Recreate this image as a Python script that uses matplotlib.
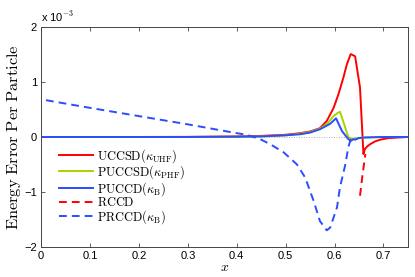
import matplotlib.pyplot as plt
import numpy as np

plt.rcParams['mathtext.fontset'] = 'cm'
plt.rcParams['font.family'] = 'Liberation Sans'

# energy error per particle, in units of 1e-3
x_uccsd = [0.0, 0.1, 0.2, 0.3, 0.4, 0.45, 0.5, 0.53, 0.55, 0.57, 0.584, 0.598, 0.608,
           0.618, 0.625, 0.633, 0.642, 0.652, 0.659, 0.662, 0.667, 0.673, 0.683, 0.693,
           0.71, 0.73, 0.75]
y_uccsd = [0.0, 0.0, 0.0, 0.002, 0.01, 0.02, 0.04, 0.07, 0.10, 0.16, 0.29, 0.53, 0.78,
           1.08, 1.32, 1.51, 1.47, 0.90, -0.31, -0.22, -0.17, -0.13, -0.08, -0.05,
           -0.02, -0.01, 0.0]

x_puccsd = [0.0, 0.1, 0.2, 0.3, 0.4, 0.45, 0.5, 0.53, 0.55, 0.57, 0.585, 0.598, 0.605,
            0.611, 0.62, 0.628, 0.635, 0.645, 0.66, 0.7, 0.75]
y_puccsd = [0.0, 0.0, 0.0, 0.0, 0.005, 0.01, 0.03, 0.06, 0.09, 0.15, 0.24, 0.38, 0.43,
            0.46, 0.22, 0.0, -0.04, -0.02, -0.01, 0.0, 0.0]

x_puccd = [0.0, 0.1, 0.2, 0.3, 0.4, 0.45, 0.5, 0.53, 0.55, 0.57, 0.591, 0.603, 0.615,
           0.628, 0.634, 0.638, 0.642, 0.65, 0.66, 0.7, 0.75]
y_puccd = [0.0, 0.0, 0.0, 0.0, 0.005, 0.01, 0.03, 0.05, 0.08, 0.14, 0.24, 0.34, 0.11,
           -0.04, -0.07, -0.04, -0.05, -0.02, -0.01, 0.0, 0.0]

x_rccd = [0.652, 0.657, 0.663]
y_rccd = [-1.07, -0.70, -0.31]

x_prccd = [0.01, 0.1, 0.2, 0.3, 0.393, 0.42, 0.448, 0.468, 0.496, 0.523, 0.54, 0.557,
           0.57, 0.584, 0.591, 0.605, 0.611, 0.622, 0.628, 0.633, 0.64]
y_prccd = [0.67, 0.53, 0.38, 0.23, 0.08, 0.04, -0.04, -0.13, -0.28, -0.50, -0.74, -1.16,
           -1.53, -1.70, -1.65, -1.28, -0.92, -0.50, -0.19, -0.04, 0.0]

x_ticks = [0, 0.1, 0.2, 0.3, 0.4, 0.5, 0.6, 0.7]
x_ticklabels = ['0', '0.1', '0.2', '0.3', '0.4', '0.5', '0.6', '0.7']
y_ticks = [-2, -1, 0, 1, 2]

red = '#ff0000'
green = '#a6d400'
blue = '#2a4dff'

fig = plt.figure(figsize=(4.15, 2.77), dpi=100)
ax = fig.add_axes([0.099, 0.109, 0.884, 0.793])

ax.axhline(0, color='#999999', lw=0.6, ls=(0, (1, 2)), zorder=1)

ax.plot(x_uccsd, y_uccsd, color=red, lw=1.4, label=r'$\mathrm{UCCSD}(\kappa_{\mathrm{UHF}})$')
ax.plot(x_puccsd, y_puccsd, color=green, lw=1.4, label=r'$\mathrm{PUCCSD}(\kappa_{\mathrm{PHF}})$')
ax.plot(x_puccd, y_puccd, color=blue, lw=1.4, label=r'$\mathrm{PUCCD}(\kappa_{\mathrm{B}})$')
ax.plot(x_rccd, y_rccd, color=red, lw=1.4, ls=(0, (4, 2.6)), label=r'$\mathrm{RCCD}$')
ax.plot(x_prccd, y_prccd, color=blue, lw=1.4, ls=(0, (4, 2.6)), label=r'$\mathrm{PRCCD}(\kappa_{\mathrm{B}})$')

ax.set_xlim(0, 0.75)
ax.set_ylim(-2, 2)
ax.set_xticks(x_ticks)
ax.set_xticklabels(x_ticklabels)
ax.set_yticks(y_ticks)
ax.tick_params(direction='in', top=True, right=True, length=3, width=0.6,
               labelsize=8, color='#444444', pad=3)
for s in ax.spines.values():
    s.set_color('#444444')
    s.set_linewidth(0.7)

ax.set_xlabel(r'$x$', fontsize=10, labelpad=-1)
ax.set_ylabel(r'$\mathrm{Energy\ Error\ Per\ Particle}$', fontsize=11.8, labelpad=1)
ax.text(0.0, 1.015, r'x 10$^{-3}$', transform=ax.transAxes, fontsize=8, va='bottom', ha='left')

ax.legend(loc='upper left', bbox_to_anchor=(0.035, 0.478), frameon=False, fontsize=8.9,
          handlelength=2.8, handletextpad=0.3, labelspacing=-0.1, borderaxespad=0)

fig.savefig('out.png', dpi=100)
